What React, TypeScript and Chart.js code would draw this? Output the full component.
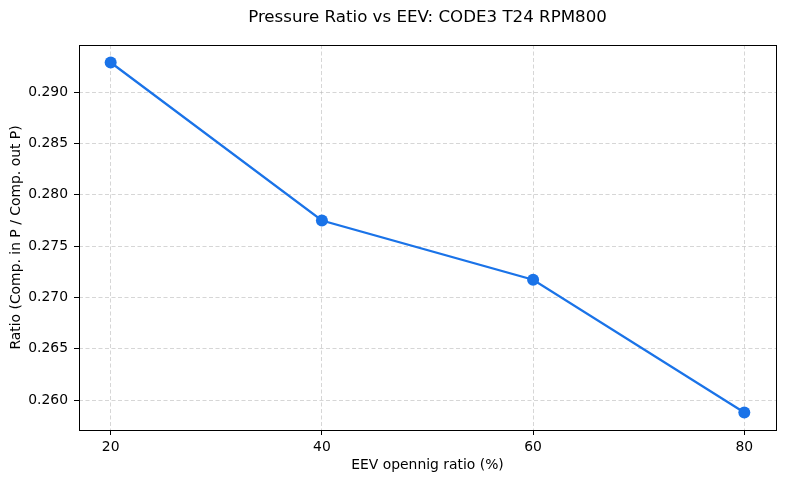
import React, { useEffect, useRef } from "react";
import { Chart, registerables } from "chart.js";

Chart.register(...registerables);

const eevOpening = [20, 40, 60, 80];
const pressureRatio = [0.29288, 0.27749, 0.27172, 0.25879];
const xTicks = [20, 40, 60, 80];
const yTicks = [0.26, 0.265, 0.27, 0.275, 0.28, 0.285, 0.29];

const titleText = "Pressure Ratio vs EEV: CODE3 T24 RPM800";
const xTitle = "EEV opennig ratio (%)";
const yTitle = "Ratio (Comp. in P / Comp. out P)";
const FONT = "'DejaVu Sans', sans-serif";
const FS = 13.9;

export default function App() {
  const ref = useRef<HTMLCanvasElement | null>(null);
  useEffect(() => {
    if (!ref.current) return;
    const frame = {
      id: "frame",
      afterDatasetsDraw(chart: any) {
        const { ctx, chartArea } = chart;
        ctx.save();
        ctx.strokeStyle = "#000";
        ctx.lineWidth = 1;
        ctx.setLineDash([]);
        ctx.strokeRect(
          Math.round(chartArea.left) + 0.5,
          Math.round(chartArea.top) + 0.5,
          Math.round(chartArea.right - chartArea.left),
          Math.round(chartArea.bottom - chartArea.top)
        );
        ctx.restore();
      },
      afterDraw(chart: any) {
        const { ctx, chartArea } = chart;
        ctx.save();
        ctx.fillStyle = "#000";
        ctx.font = `16.67px ${FONT}`;
        ctx.textAlign = "center";
        ctx.textBaseline = "middle";
        ctx.fillText(titleText, (chartArea.left + chartArea.right) / 2, 18);
        ctx.restore();
      },
    };
    const gridOpts = {
      color: "rgba(176,176,176,0.65)",
      lineWidth: 0.8,
      tickColor: "#000",
      tickLength: 5,
      tickWidth: 1,
    };
    const chart = new Chart(ref.current, {
      type: "line",
      data: {
        datasets: [
          {
            data: eevOpening.map((x, i) => ({ x, y: pressureRatio[i] })),
            borderColor: "#1a73e8",
            backgroundColor: "#1a73e8",
            borderWidth: 2.3,
            pointRadius: 6,
            pointHoverRadius: 6,
            pointBorderWidth: 0,
            tension: 0,
            clip: false as any,
          },
        ],
      },
      options: {
        animation: false,
        responsive: false,
        devicePixelRatio: 1,
        layout: { padding: { top: 45, right: 10, left: 0, bottom: 0 } },
        plugins: { legend: { display: false }, tooltip: { enabled: false } },
        scales: {
          x: {
            type: "linear",
            min: 17,
            max: 83,
            afterFit: (s: any) => {
              s.height = 53;
            },
            afterBuildTicks: (s: any) => {
              s.ticks = xTicks.map((v) => ({ value: v }));
            },
            border: { display: false, dash: [4, 2.5] },
            grid: gridOpts,
            ticks: {
              color: "#000",
              font: { family: FONT, size: FS },
              padding: 4,
              maxRotation: 0,
              callback: (v: any) => String(v),
            },
            title: {
              display: true,
              text: xTitle,
              color: "#000",
              font: { family: FONT, size: FS },
              padding: { top: 4, bottom: 9 },
            },
          },
          y: {
            type: "linear",
            min: 0.25709,
            max: 0.29458,
            afterFit: (s: any) => {
              s.width = 79;
            },
            afterBuildTicks: (s: any) => {
              s.ticks = yTicks.map((v) => ({ value: v }));
            },
            border: { display: false, dash: [4, 2.5] },
            grid: gridOpts,
            ticks: {
              color: "#000",
              font: { family: FONT, size: FS },
              padding: 6,
              callback: (v: any) => Number(v).toFixed(3),
            },
            title: {
              display: true,
              text: yTitle,
              color: "#000",
              font: { family: FONT, size: FS },
              padding: { top: 8, bottom: 0 },
            },
          },
        },
      },
      plugins: [frame],
    });
    return () => chart.destroy();
  }, []);
  return (
    <div style={{ position: "absolute", left: 0, top: 0, width: 786, height: 483, background: "#fff" }}>
      <canvas ref={ref} width={786} height={483} />
    </div>
  );
}
